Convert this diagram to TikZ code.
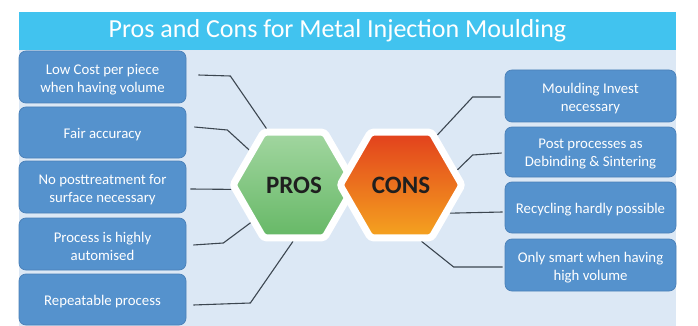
\documentclass[tikz,border=0pt]{standalone}
\usepackage{fontspec}
\setmainfont{Carlito}
\usetikzlibrary{shapes.geometric}
\definecolor{slidebg}{HTML}{DCE8F5}
\definecolor{titlebar}{HTML}{41C3EF}
\definecolor{boxfill}{HTML}{5592CD}
\definecolor{boxedge}{HTML}{4A80B8}
\definecolor{linkgray}{HTML}{3C4650}
\definecolor{proslight}{HTML}{A2D6A0}
\definecolor{prosdark}{HTML}{66B866}
\definecolor{constop}{HTML}{E2401D}
\definecolor{consbot}{HTML}{F5A41F}
\begin{document}
\begin{tikzpicture}[x=1pt,y=-1pt,
  item/.style={draw=boxedge, fill=boxfill, rounded corners=7pt, line width=0.7pt,
    inner sep=0pt},
  itemtext/.style={text=white, font=\fontsize{14.8}{18}\selectfont, align=center,
    inner sep=0pt, yshift=-2.5pt},
  hexa/.style={regular polygon, regular polygon sides=6, minimum size=122pt,
    inner sep=0pt, draw=white, line width=7pt, rounded corners=3pt,
    font=\fontsize{25}{25}\selectfont\bfseries, text=black!88},
  link/.style={draw=linkgray, line width=1.1pt}]
% page and slide
\useasboundingbox (0,0) rectangle (698,326);
\fill[white] (0,0) rectangle (698,326);
\fill[slidebg] (19,12) rectangle (676,326);
\fill[titlebar] (19,12) rectangle (676,50);
\node[text=white, font=\fontsize{26}{26}\selectfont] (title) at (337.5,31)
  {Pros and Cons for Metal Injection Moulding};

% left column: advantages
\node[item, minimum width=167pt, minimum height=52pt] (l1) at (102.5,77) {};
\node[itemtext] (l1t) at (l1) {Low Cost per piece\\when having volume};
\node[item, minimum width=167pt, minimum height=51pt] (l2) at (102.5,132.5) {};
\node[itemtext] (l2t) at (l2) {Fair accuracy};
\node[item, minimum width=167pt, minimum height=52pt] (l3) at (102.5,187) {};
\node[itemtext] (l3t) at (l3) {No posttreatment for\\surface necessary};
\node[item, minimum width=167pt, minimum height=52pt] (l4) at (102.5,244) {};
\node[itemtext] (l4t) at (l4) {Process is highly\\automised};
\node[item, minimum width=167pt, minimum height=51pt] (l5) at (102.5,299.5) {};
\node[itemtext] (l5t) at (l5) {Repeatable process};

% right column: drawbacks
\node[item, minimum width=171pt, minimum height=52pt] (r1) at (590.5,96) {};
\node[itemtext] (r1t) at (r1) {Moulding Invest\\necessary};
\node[item, minimum width=171pt, minimum height=50pt] (r2) at (590.5,152) {};
\node[itemtext] (r2t) at (r2) {Post processes as\\Debinding \& Sintering};
\node[item, minimum width=171pt, minimum height=51pt] (r3) at (590.5,207.5) {};
\node[itemtext] (r3t) at (r3) {Recycling hardly possible};
\node[item, minimum width=171pt, minimum height=52pt] (r4) at (590.5,265) {};
\node[itemtext] (r4t) at (r4) {Only smart when having\\high volume};

% hexagon anchors (drawn later, on top of the connectors)
\path (294,185) coordinate (pc) (401,185) coordinate (cc);
\node[hexa, draw=none, fill=none] (pros) at (pc) {};
\node[hexa, draw=none, fill=none] (cons) at (cc) {};

% connectors
\draw[link] ([shift={(12,-2)}]l1.east) -- ++(32,1) -- (pros.116);
\draw[link] ([shift={(8,-5.5)}]l2.east) -- ++(33,3) -- (pros.142);
\draw[link] ([shift={(4,2)}]l3.east) -- (pros.184);
\draw[link] ([shift={(7,1)}]l4.east) -- ++(30,-2) -- (pros.221);
\draw[link] ([shift={(7,5.5)}]l5.east) -- ++(57,-2) -- (pros.269);
\draw[link] ([shift={(-4,1)}]r1.west) -- ++(-28,0) -- (cons.54);
\draw[link] ([shift={(-3,1)}]r2.west) -- ++(-29,2) -- (cons.15);
\draw[link] ([shift={(-2,4.5)}]r3.west) -- (cons.-30);
\draw[link] ([shift={(-2,2)}]r4.west) -- ++(-49,0) -- (cons.-70);

% hexagons
\node[hexa, top color=proslight, bottom color=prosdark] (prosfill) at (pc) {PROS};
\node[hexa, top color=constop, bottom color=consbot] (consfill) at (cc) {CONS};
\end{tikzpicture}
\end{document}
